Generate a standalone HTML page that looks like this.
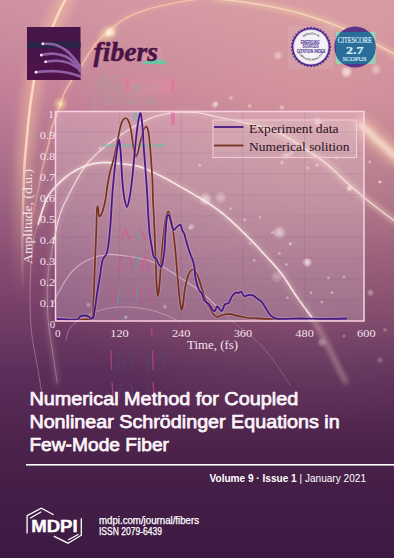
<!DOCTYPE html>
<html><head><meta charset="utf-8">
<style>
html,body{margin:0;padding:0;width:394px;height:558px;overflow:hidden;background:#3e1b45;}
svg{display:block;}
.serif{font-family:"Liberation Serif",serif;}
.sans{font-family:"Liberation Sans",sans-serif;}
</style></head><body>
<svg width="394" height="558" viewBox="0 0 394 558">
<defs>
<linearGradient id="bg" x1="0" y1="0" x2="0" y2="1">
<stop offset="0" stop-color="#cf92a2"/>
<stop offset="0.03" stop-color="#cd90a1"/>
<stop offset="0.165" stop-color="#c27f98"/>
<stop offset="0.345" stop-color="#a06684"/>
<stop offset="0.466" stop-color="#874c72"/>
<stop offset="0.57" stop-color="#743d66"/>
<stop offset="0.663" stop-color="#5c2f5a"/>
<stop offset="0.774" stop-color="#4f244d"/>
<stop offset="0.878" stop-color="#441e46"/>
<stop offset="1" stop-color="#3d1a42"/>
</linearGradient>
<filter id="bb" filterUnits="userSpaceOnUse" x="-50" y="-50" width="500" height="660"><feGaussianBlur stdDeviation="0.8"/></filter>
<filter id="gl1" filterUnits="userSpaceOnUse" x="-50" y="-50" width="500" height="660"><feGaussianBlur stdDeviation="1.3"/></filter>
<filter id="gl" filterUnits="userSpaceOnUse" x="-50" y="-50" width="500" height="660"><feGaussianBlur stdDeviation="2.5"/></filter>
<filter id="gl2" filterUnits="userSpaceOnUse" x="-50" y="-50" width="500" height="660"><feGaussianBlur stdDeviation="5"/></filter>
<filter id="sb" filterUnits="userSpaceOnUse" x="-50" y="-50" width="500" height="660"><feGaussianBlur stdDeviation="0.4"/></filter>
<radialGradient id="ov" gradientUnits="userSpaceOnUse" cx="0" cy="0" r="1" gradientTransform="translate(320 120) scale(330 320)"><stop offset="0" stop-color="#ffc8aa" stop-opacity="0.3"/><stop offset="1" stop-color="#ffc8aa" stop-opacity="0"/></radialGradient>
<linearGradient id="g1f" gradientUnits="userSpaceOnUse" x1="0" y1="0" x2="0" y2="290"><stop offset="0" stop-color="#ffdcc0"/><stop offset="0.5" stop-color="#ffdcc0"/><stop offset="1" stop-color="#ffdcc0" stop-opacity="0"/></linearGradient>
<linearGradient id="g1g" gradientUnits="userSpaceOnUse" x1="0" y1="0" x2="0" y2="300"><stop offset="0" stop-color="#ffc8a0"/><stop offset="0.5" stop-color="#ffc8a0"/><stop offset="1" stop-color="#ffc8a0" stop-opacity="0"/></linearGradient>
<linearGradient id="g2f" gradientUnits="userSpaceOnUse" x1="0" y1="0" x2="0" y2="240"><stop offset="0" stop-color="#f8c4a8"/><stop offset="0.55" stop-color="#f8c4a8"/><stop offset="1" stop-color="#f8c4a8" stop-opacity="0"/></linearGradient>
<radialGradient id="bk"><stop offset="0" stop-color="#fffaf0" stop-opacity="1"/><stop offset="0.45" stop-color="#fff0e8" stop-opacity="0.75"/><stop offset="1" stop-color="#ffe8e8" stop-opacity="0"/></radialGradient>
<radialGradient id="flare"><stop offset="0" stop-color="#fff8d8" stop-opacity="0.95"/><stop offset="0.35" stop-color="#ffe0a0" stop-opacity="0.5"/><stop offset="1" stop-color="#ffd090" stop-opacity="0"/></radialGradient>
</defs>
<rect width="394" height="558" fill="url(#bg)"/>
<rect width="394" height="558" fill="url(#ov)"/>

<!-- decorative arcs -->
<g fill="none" stroke-linecap="round">
  <path d="M67.0 -3.0C67.0 -3.0 62.2 5.4 60.0 10.0C57.6 15.0 55.6 20.0 53.0 26.0C49.7 33.6 45.0 44.1 42.0 52.0C39.5 58.5 37.6 63.8 36.0 70.0C34.4 76.4 33.5 83.5 32.5 90.0C31.5 96.2 30.7 102.0 29.9 108.0C29.2 113.9 28.6 119.8 28.0 125.8C27.4 131.8 26.9 137.6 26.3 143.8C25.7 150.6 24.9 157.9 24.5 165.0C24.0 172.2 23.9 179.1 23.6 186.8C23.3 195.6 23.0 205.5 22.8 215.0C22.6 224.8 22.3 235.0 22.3 245.0C22.3 255.0 22.3 265.5 22.5 275.0C22.7 283.7 23.5 300.0 23.5 300.0" stroke="url(#g1g)" stroke-width="16" opacity="0.45" filter="url(#gl2)"/>
  <path d="M67.0 -3.0C67.0 -3.0 62.2 5.4 60.0 10.0C57.6 15.0 55.6 20.0 53.0 26.0C49.7 33.6 45.0 44.1 42.0 52.0C39.5 58.5 37.6 63.8 36.0 70.0C34.4 76.4 33.5 83.5 32.5 90.0C31.5 96.2 30.7 102.0 29.9 108.0C29.2 113.9 28.6 119.8 28.0 125.8C27.4 131.8 26.9 137.6 26.3 143.8C25.7 150.6 24.9 157.9 24.5 165.0C24.0 172.2 23.9 179.1 23.6 186.8C23.3 195.6 23.0 205.5 22.8 215.0C22.6 224.8 22.3 235.0 22.3 245.0C22.3 255.0 22.3 265.5 22.5 275.0C22.7 283.7 23.5 300.0 23.5 300.0" stroke="url(#g1f)" stroke-width="2.6" opacity="0.9" filter="url(#sb)"/>
  <path d="M205.0 -2.0C205.0 -2.0 181.1 1.7 171.0 3.7C162.7 5.4 155.9 6.6 148.5 9.0C140.8 11.5 132.7 14.4 125.7 18.3C119.0 22.1 112.5 27.6 107.4 32.0C103.3 35.5 100.2 38.3 97.0 42.0C93.7 45.9 90.9 50.6 88.0 55.0C85.2 59.3 82.7 63.8 80.0 68.0C77.4 72.1 74.6 76.0 72.0 80.0C69.5 84.0 66.8 87.9 64.8 92.0C62.9 96.0 61.8 100.2 60.3 104.3C58.8 108.5 57.3 112.8 55.8 117.0C54.3 121.2 52.6 125.1 51.4 129.4C50.2 134.0 49.8 139.0 48.7 143.8C47.6 148.6 46.2 153.2 45.0 158.0C43.8 162.8 42.5 167.6 41.5 172.4C40.5 177.2 39.8 181.7 38.8 186.8C37.7 192.5 36.3 198.8 35.0 205.0C33.7 211.5 32.2 218.3 31.0 225.0C29.8 231.7 28.0 245.0 28.0 245.0" stroke="#ffc8a0" stroke-width="4" opacity="0.25" filter="url(#gl)"/>
  <path d="M205.0 -2.0C205.0 -2.0 181.1 1.7 171.0 3.7C162.7 5.4 155.9 6.6 148.5 9.0C140.8 11.5 132.7 14.4 125.7 18.3C119.0 22.1 112.5 27.6 107.4 32.0C103.3 35.5 100.2 38.3 97.0 42.0C93.7 45.9 90.9 50.6 88.0 55.0C85.2 59.3 82.7 63.8 80.0 68.0C77.4 72.1 74.6 76.0 72.0 80.0C69.5 84.0 66.8 87.9 64.8 92.0C62.9 96.0 61.8 100.2 60.3 104.3C58.8 108.5 57.3 112.8 55.8 117.0C54.3 121.2 52.6 125.1 51.4 129.4C50.2 134.0 49.8 139.0 48.7 143.8C47.6 148.6 46.2 153.2 45.0 158.0C43.8 162.8 42.5 167.6 41.5 172.4C40.5 177.2 39.8 181.7 38.8 186.8C37.7 192.5 36.3 198.8 35.0 205.0C33.7 211.5 32.2 218.3 31.0 225.0C29.8 231.7 28.0 245.0 28.0 245.0" stroke="url(#g2f)" stroke-width="1.6" opacity="0.8" filter="url(#sb)"/>
  <path d="M215.0 -1.0C215.0 -1.0 235.2 0.7 247.0 2.5C261.9 4.8 280.5 8.0 297.0 12.5C313.8 17.1 330.6 23.0 347.0 30.0C363.7 37.1 396.0 55.0 396.0 55.0" stroke="#ffe0a0" stroke-width="6" opacity="0.4" filter="url(#gl)"/>
  <path d="M215.0 -1.0C215.0 -1.0 235.2 0.7 247.0 2.5C261.9 4.8 280.5 8.0 297.0 12.5C313.8 17.1 330.6 23.0 347.0 30.0C363.7 37.1 396.0 55.0 396.0 55.0" stroke="#fff0d0" stroke-width="1.4" opacity="0.55" filter="url(#sb)"/>
  <path d="M362.0 125.5C362.0 125.5 365.9 129.0 368.0 131.0C370.4 133.3 372.8 136.0 375.5 138.6C378.4 141.4 381.7 144.1 385.0 147.0C388.5 150.2 396.0 157.0 396.0 157.0" stroke="#ffd0a8" stroke-width="18" opacity="0.45" filter="url(#gl2)"/>
  <path d="M362.0 125.5C362.0 125.5 365.9 129.0 368.0 131.0C370.4 133.3 372.8 136.0 375.5 138.6C378.4 141.4 381.7 144.1 385.0 147.0C388.5 150.2 396.0 157.0 396.0 157.0" stroke="#ffeedd" stroke-width="6" opacity="0.75" filter="url(#gl)"/>
  <path d="M250.0 124.0C250.0 124.0 271.6 129.6 281.0 134.0C289.8 138.1 297.3 143.9 305.0 149.0C312.5 153.9 319.8 158.5 326.7 164.0C333.7 169.6 339.8 176.3 346.5 182.3C353.2 188.2 359.3 193.7 366.8 199.7C375.6 206.8 396.0 222.0 396.0 222.0" stroke="#ffe0c0" stroke-width="6" opacity="0.3" filter="url(#gl)"/>
  <path d="M57.3 383.0C57.3 383.0 54.4 364.2 53.0 354.7C51.6 345.2 49.7 335.6 48.7 326.0C47.7 316.4 47.3 306.5 47.3 297.0C47.3 287.8 47.7 277.0 48.5 270.0C49.0 265.5 49.9 262.5 50.5 259.0C51.1 255.8 51.5 253.0 52.1 249.8C52.8 246.3 53.6 242.6 54.3 239.0C55.0 235.4 55.6 231.9 56.4 228.3C57.2 224.7 58.0 221.1 59.1 217.5C60.2 213.9 61.4 210.3 62.9 206.8C64.4 203.2 66.4 199.7 68.3 196.0C70.4 191.9 72.5 187.5 74.8 183.3C77.1 179.1 79.5 174.6 82.0 170.8C84.2 167.4 86.2 164.7 89.0 161.5C92.3 157.7 96.5 153.7 100.8 150.0C105.4 146.0 110.9 142.1 116.0 138.5C121.0 134.9 125.8 131.5 131.2 128.3C137.0 124.8 144.0 120.9 150.0 118.5C155.2 116.4 160.0 115.1 165.0 114.0C170.0 113.0 174.6 112.4 180.0 112.2C186.2 112.0 193.8 112.2 200.0 113.0C205.4 113.7 209.6 115.3 215.0 116.5C221.2 117.8 228.8 119.2 235.0 120.5C240.4 121.7 244.1 122.4 250.0 124.0C258.5 126.4 271.6 129.6 281.0 134.0C289.8 138.1 297.3 143.9 305.0 149.0C312.5 153.9 319.8 158.5 326.7 164.0C333.7 169.6 339.8 176.3 346.5 182.3C353.2 188.2 359.3 193.7 366.8 199.7C375.6 206.8 396.0 222.0 396.0 222.0" stroke="#ffe8d0" stroke-width="3" opacity="0.25" filter="url(#gl)"/>
  <path d="M54.3 239.0C54.3 239.0 55.6 231.9 56.4 228.3C57.2 224.7 58.0 221.1 59.1 217.5C60.2 213.9 61.4 210.3 62.9 206.8C64.4 203.2 66.4 199.7 68.3 196.0C70.4 191.9 72.5 187.5 74.8 183.3C77.1 179.1 79.5 174.6 82.0 170.8C84.2 167.4 86.2 164.7 89.0 161.5C92.3 157.7 96.5 153.7 100.8 150.0C105.4 146.0 110.9 142.1 116.0 138.5C121.0 134.9 125.8 131.5 131.2 128.3C137.0 124.8 144.0 120.9 150.0 118.5C155.2 116.4 160.0 115.1 165.0 114.0C170.0 113.0 174.6 112.4 180.0 112.2C186.2 112.0 193.8 112.2 200.0 113.0C205.4 113.7 209.6 115.3 215.0 116.5C221.2 117.8 228.8 119.2 235.0 120.5C240.4 121.7 244.1 122.4 250.0 124.0C258.5 126.4 271.6 129.6 281.0 134.0C289.8 138.1 297.3 143.9 305.0 149.0C312.5 153.9 319.8 158.5 326.7 164.0C333.7 169.6 339.8 176.3 346.5 182.3C353.2 188.2 359.3 193.7 366.8 199.7C375.6 206.8 396.0 222.0 396.0 222.0" stroke="#fff2e8" stroke-width="1.2" opacity="0.75" filter="url(#sb)"/>
  <path d="M57.3 383.0C57.3 383.0 54.4 364.2 53.0 354.7C51.6 345.2 49.7 335.6 48.7 326.0C47.7 316.4 47.3 306.5 47.3 297.0C47.3 287.8 47.7 277.0 48.5 270.0C49.0 265.5 49.9 262.5 50.5 259.0C51.1 255.8 51.5 253.0 52.1 249.8C52.8 246.3 53.6 242.6 54.3 239.0C55.0 235.4 56.4 228.3 56.4 228.3" stroke="#fff2e8" stroke-width="1" opacity="0.3" filter="url(#sb)"/>
  <path d="M38.2 224.0C38.2 224.0 40.9 214.6 42.5 210.0C44.1 205.4 45.5 200.7 47.9 196.5C50.3 192.4 53.5 188.7 56.9 185.1C60.6 181.3 64.9 177.4 69.4 174.3C73.9 171.2 78.7 168.4 83.8 166.5C89.1 164.5 94.9 163.1 100.8 162.6C107.2 162.1 114.5 163.1 121.0 163.8C127.1 164.4 132.6 164.6 138.8 166.4C146.1 168.5 154.1 172.7 161.8 176.5C169.9 180.5 179.2 186.1 186.2 190.0C191.5 193.0 194.9 194.8 200.0 198.0C206.5 202.1 214.6 207.2 222.0 213.0C230.3 219.6 239.5 228.6 247.0 236.0C253.6 242.5 259.2 248.7 265.0 255.0C270.6 261.1 276.0 266.6 281.2 273.4C286.9 280.8 292.0 289.9 297.5 297.8C302.8 305.4 308.9 312.4 313.7 320.0C318.3 327.3 322.0 334.7 326.0 342.4C330.1 350.3 334.4 359.6 338.0 366.8C340.9 372.5 346.0 382.0 346.0 382.0" stroke="#ffe4d0" stroke-width="4" opacity="0.3" filter="url(#gl)"/>
  <path d="M43.0 400.0C43.0 400.0 39.2 377.3 37.3 366.0C35.4 354.7 32.7 343.5 31.5 332.0C30.3 320.5 30.1 308.4 30.0 297.0C29.9 286.1 30.4 273.7 31.0 265.0C31.4 259.1 32.0 254.6 32.5 250.0C32.9 246.0 33.0 242.3 33.6 238.9C34.2 235.9 35.2 233.0 36.0 230.4C36.7 228.1 37.4 226.6 38.2 224.0C39.4 220.2 42.5 210.0 42.5 210.0" stroke="#fff0e8" stroke-width="1" opacity="0.3" filter="url(#sb)"/>
  <path d="M38.2 224.0C38.2 224.0 40.9 214.6 42.5 210.0C44.1 205.4 45.5 200.7 47.9 196.5C50.3 192.4 53.5 188.7 56.9 185.1C60.6 181.3 64.9 177.4 69.4 174.3C73.9 171.2 78.7 168.4 83.8 166.5C89.1 164.5 94.9 163.1 100.8 162.6C107.2 162.1 114.5 163.1 121.0 163.8C127.1 164.4 132.6 164.6 138.8 166.4C146.1 168.5 154.1 172.7 161.8 176.5C169.9 180.5 179.2 186.1 186.2 190.0C191.5 193.0 194.9 194.8 200.0 198.0C206.5 202.1 214.6 207.2 222.0 213.0C230.3 219.6 239.5 228.6 247.0 236.0C253.6 242.5 259.2 248.7 265.0 255.0C270.6 261.1 276.0 266.6 281.2 273.4C286.9 280.8 292.0 289.9 297.5 297.8C302.8 305.4 313.7 320.0 313.7 320.0" stroke="#fff2e6" stroke-width="1.8" opacity="0.85" filter="url(#sb)"/>
  <path d="M313.7 320.0C313.7 320.0 322.0 334.7 326.0 342.4C330.1 350.3 334.4 359.6 338.0 366.8C340.9 372.5 346.0 382.0 346.0 382.0" stroke="#fff0e8" stroke-width="3" opacity="0.18" filter="url(#gl)"/>
  <path d="M52.0 306.0C52.0 306.0 55.6 297.6 58.3 292.8C61.9 286.3 67.0 276.7 72.5 271.0C77.3 266.0 82.9 262.3 88.7 259.5C94.4 256.8 100.5 255.1 107.0 254.5C114.0 253.9 122.0 255.4 129.3 256.5C136.4 257.6 143.8 258.9 150.0 261.0C155.5 262.9 160.1 265.3 165.0 268.0C170.2 270.9 175.4 274.7 180.5 278.0C185.6 281.3 191.0 284.5 195.7 288.0C200.1 291.2 204.1 294.5 208.0 298.0C211.7 301.3 218.5 308.4 218.5 308.4" stroke="#ffe8f0" stroke-width="1.1" opacity="0.5" filter="url(#sb)"/>
  <path d="M218.5 308.4C218.5 308.4 227.3 316.9 232.0 321.0C236.8 325.1 242.1 329.0 247.0 333.0C251.8 337.0 256.2 339.9 261.0 345.0C267.4 351.8 275.8 363.6 281.0 371.0C284.7 376.3 290.0 385.0 290.0 385.0" stroke="#ffe8f0" stroke-width="1" opacity="0.2" filter="url(#sb)"/>
  <path d="M66.0 340.0C66.0 340.0 67.4 331.6 70.0 328.0C73.1 323.7 79.5 320.0 84.7 317.0C89.8 314.0 95.2 311.7 101.0 310.0C107.2 308.2 114.0 307.2 121.0 307.0C128.8 306.7 137.9 307.6 145.6 309.0C152.8 310.3 159.9 312.6 166.0 315.0C171.2 317.0 180.0 322.0 180.0 322.0" stroke="#ffe8f0" stroke-width="1" opacity="0.35" filter="url(#sb)"/>
</g>
<ellipse cx="108" cy="33.5" rx="13" ry="9" transform="rotate(-35 108 33.5)" fill="url(#flare)"/>
<circle cx="110.5" cy="32" r="4" fill="#fffbe8" opacity="0.6" filter="url(#gl1)"/>
<circle cx="60.5" cy="104" r="8" fill="url(#flare)"/>
<circle cx="346.5" cy="72" r="6.5" fill="url(#bk)" opacity="0.75"/><circle cx="376" cy="69.5" r="5.9" fill="url(#bk)" opacity="0.45"/><circle cx="278" cy="55.4" r="5.2" fill="url(#bk)" opacity="0.45"/><circle cx="216" cy="103.6" r="3.2" fill="url(#bk)" opacity="0.5"/><circle cx="231" cy="98" r="2.6" fill="url(#bk)" opacity="0.45"/><circle cx="249.6" cy="106" r="2.6" fill="url(#bk)" opacity="0.45"/><circle cx="317.6" cy="121.6" r="5.2" fill="url(#bk)" opacity="0.5"/><circle cx="285" cy="155.6" r="4.5" fill="url(#bk)" opacity="0.35"/><circle cx="199.8" cy="165.4" r="2.0" fill="url(#bk)" opacity="0.5"/><circle cx="205.4" cy="198.9" r="7.2" fill="url(#bk)" opacity="0.6"/><circle cx="220.7" cy="197.5" r="6.5" fill="url(#bk)" opacity="0.4"/><circle cx="230.5" cy="208.7" r="2.0" fill="url(#bk)" opacity="0.5"/><circle cx="244.5" cy="219.8" r="2.0" fill="url(#bk)" opacity="0.5"/><circle cx="259.8" cy="217" r="2.0" fill="url(#bk)" opacity="0.5"/><circle cx="279.4" cy="232.4" r="7.2" fill="url(#bk)" opacity="0.55"/><circle cx="272.4" cy="232.4" r="2.0" fill="url(#bk)" opacity="0.5"/><circle cx="250" cy="243.6" r="2.0" fill="url(#bk)" opacity="0.45"/><circle cx="290.6" cy="243.6" r="2.0" fill="url(#bk)" opacity="0.45"/><circle cx="279.4" cy="253.4" r="2.0" fill="url(#bk)" opacity="0.45"/><circle cx="254.2" cy="260.3" r="2.0" fill="url(#bk)" opacity="0.45"/><circle cx="286.4" cy="264.5" r="2.0" fill="url(#bk)" opacity="0.45"/><circle cx="276.6" cy="277" r="6.5" fill="url(#bk)" opacity="0.3"/><circle cx="190" cy="228" r="2.0" fill="url(#bk)" opacity="0.4"/><circle cx="191.5" cy="226.7" r="3.9" fill="url(#bk)" opacity="0.4"/><circle cx="349.4" cy="188.5" r="3.6" fill="url(#bk)" opacity="0.7"/><circle cx="379.7" cy="181.9" r="2.0" fill="url(#bk)" opacity="0.5"/><circle cx="307.2" cy="262.3" r="5.2" fill="url(#bk)" opacity="0.75"/><circle cx="328.3" cy="278" r="2.0" fill="url(#bk)" opacity="0.5"/><circle cx="344" cy="277" r="2.0" fill="url(#bk)" opacity="0.5"/><circle cx="311" cy="292.7" r="2.0" fill="url(#bk)" opacity="0.5"/><circle cx="332" cy="292.7" r="2.0" fill="url(#bk)" opacity="0.5"/><circle cx="370.5" cy="292.7" r="3.9" fill="url(#bk)" opacity="0.4"/><circle cx="290" cy="244" r="2.0" fill="url(#bk)" opacity="0.4"/><circle cx="336.4" cy="157.7" r="2.3" fill="url(#bk)" opacity="0.45"/><circle cx="369.7" cy="162" r="2.3" fill="url(#bk)" opacity="0.45"/><circle cx="380" cy="182" r="2.0" fill="url(#bk)" opacity="0.45"/><circle cx="307.5" cy="168" r="2.3" fill="url(#bk)" opacity="0.45"/><circle cx="288.7" cy="154.8" r="3.9" fill="url(#bk)" opacity="0.35"/><circle cx="321.8" cy="302" r="2.0" fill="url(#bk)" opacity="0.45"/><circle cx="287.3" cy="297.8" r="2.0" fill="url(#bk)" opacity="0.4"/><circle cx="309.6" cy="320" r="2.0" fill="url(#bk)" opacity="0.4"/><circle cx="321.8" cy="342.4" r="5.2" fill="url(#bk)" opacity="0.3"/><circle cx="344" cy="336" r="2.0" fill="url(#bk)" opacity="0.4"/><circle cx="88.4" cy="304.8" r="2.6" fill="url(#bk)" opacity="0.4"/><circle cx="125.7" cy="317.3" r="2.6" fill="url(#bk)" opacity="0.4"/><circle cx="164.8" cy="306.6" r="2.6" fill="url(#bk)" opacity="0.4"/><circle cx="100" cy="148" r="2.0" fill="url(#bk)" opacity="0.45"/><circle cx="282" cy="107.5" r="3.2" fill="url(#bk)" opacity="0.5"/><circle cx="292" cy="152.5" r="2.6" fill="url(#bk)" opacity="0.45"/><circle cx="282" cy="162.5" r="2.6" fill="url(#bk)" opacity="0.45"/><circle cx="317" cy="165" r="2.6" fill="url(#bk)" opacity="0.45"/><circle cx="214.5" cy="105" r="3.9" fill="url(#bk)" opacity="0.45"/><circle cx="380" cy="360" r="3.9" fill="url(#bk)" opacity="0.25"/><circle cx="385" cy="330" r="2.6" fill="url(#bk)" opacity="0.3"/>

<!-- logo -->
<rect x="27" y="27" width="53.5" height="53" fill="#48154a"/>
<rect x="27" y="62" width="53.5" height="18" fill="#54124a" opacity="0.6"/>
<rect x="27" y="41.6" width="53.5" height="6.4" fill="#2a2448"/>
<g fill="none" stroke="#9a6ab2" stroke-width="2.6" stroke-linecap="round" opacity="0.88">
  <path d="M42.8 43.8C42.8 43.8 50.6 43.5 54.4 44.5C58.3 45.5 62.5 47.7 65.8 50.1C69.1 52.5 71.8 55.7 74.3 58.7C76.6 61.5 80.4 67.2 80.4 67.2"/>
  <path d="M41.3 55.1C41.3 55.1 50.2 53.4 54.4 53.7C58.4 54.0 62.4 54.9 65.8 56.5C69.0 58.0 71.9 60.4 74.3 62.9C76.7 65.4 80.4 71.5 80.4 71.5"/>
  <path d="M45.6 61.8C45.6 61.8 53.4 60.6 57.2 60.8C61.0 61.0 64.9 61.5 68.6 62.9C72.6 64.4 80.4 70.0 80.4 70.0"/>
  <path d="M36.0 72.2C36.0 72.2 48.7 71.0 54.4 71.2C59.4 71.4 64.1 72.0 68.6 72.9C72.8 73.8 80.4 76.4 80.4 76.4"/>
</g>
<g fill="#f6e4f4"><circle cx="42.8" cy="43.8" r="1.4"/><circle cx="41.3" cy="55.1" r="1.4"/><circle cx="45.6" cy="61.8" r="1.4"/><circle cx="36" cy="72.2" r="1.4"/></g>
<rect x="141.7" y="46" width="20" height="14" fill="#e894ac" opacity="0.35"/>
<g opacity="0.9">
<text x="94" y="0" class="serif" font-size="26" font-weight="bold" font-style="italic" fill="none" stroke="#98aaa4" stroke-width="1.4" opacity="0.35" transform="translate(0 104) scale(1 1.55)" textLength="63" lengthAdjust="spacingAndGlyphs">fibers</text>
<rect x="127" y="79" width="47" height="16" fill="#e88aa8" opacity="0.35" filter="url(#sb)"/>
<rect x="126" y="79" width="3" height="12" fill="#f0609a" opacity="0.45" filter="url(#sb)"/>
<rect x="171" y="79" width="3" height="14" fill="#f0609a" opacity="0.45" filter="url(#sb)"/>
<rect x="135" y="83" width="2.5" height="10" fill="#5cc0a8" opacity="0.35" filter="url(#sb)"/>
</g>
<polygon points="141.7,64 146,60.6 161.5,59.3 168,64" fill="#6cc4a0"/>
<text x="93.5" y="60.5" class="serif" font-size="27" font-weight="bold" font-style="italic" fill="#4a1446" stroke="#4a1446" stroke-width="0.5" textLength="64.5" lengthAdjust="spacingAndGlyphs">fibers</text>

<!-- ESCI badge -->
<rect x="288" y="26" width="46" height="43" fill="#ffffff" opacity="0.08"/>
<polygon points="331.50,47.00 329.73,48.64 331.19,50.56 329.16,51.87 330.26,54.01 328.04,54.95 328.75,57.25 326.40,57.78 326.70,60.18 324.29,60.29 324.18,62.70 321.78,62.40 321.25,64.75 318.95,64.04 318.01,66.26 315.87,65.16 314.56,67.19 312.64,65.73 311.00,67.50 309.36,65.73 307.44,67.19 306.13,65.16 303.99,66.26 303.05,64.04 300.75,64.75 300.22,62.40 297.82,62.70 297.71,60.29 295.30,60.18 295.60,57.78 293.25,57.25 293.96,54.95 291.74,54.01 292.84,51.87 290.81,50.56 292.27,48.64 290.50,47.00 292.27,45.36 290.81,43.44 292.84,42.13 291.74,39.99 293.96,39.05 293.25,36.75 295.60,36.22 295.30,33.82 297.71,33.71 297.82,31.30 300.22,31.60 300.75,29.25 303.05,29.96 303.99,27.74 306.13,28.84 307.44,26.81 309.36,28.27 311.00,26.50 312.64,28.27 314.56,26.81 315.87,28.84 318.01,27.74 318.95,29.96 321.25,29.25 321.78,31.60 324.18,31.30 324.29,33.71 326.70,33.82 326.40,36.22 328.75,36.75 328.04,39.05 330.26,39.99 329.16,42.13 331.19,43.44 329.73,45.36" fill="#4b2c8c"/>
<circle cx="311" cy="47" r="17.6" fill="#e9d9ec"/>
<circle cx="311" cy="47" r="16.6" fill="#f3f1f5"/>
<path id="escitop" d="M298.5 47 A12.5 12.5 0 0 1 323.5 47" fill="none"/>
<path id="escibot" d="M297.2 47 A13.8 13.8 0 0 0 324.8 47" fill="none"/>
<g class="sans" font-size="2.9" font-weight="bold" fill="#58506a" text-anchor="middle">
<text><textPath href="#escitop" startOffset="50%">INDEXED IN</textPath></text>
<text><textPath href="#escibot" startOffset="50%">CLARIVATE ANALYTICS</textPath></text></g>
<g class="sans" font-size="4.8" font-weight="bold" fill="#5e4a9a" stroke="#5e4a9a" stroke-width="0.15" text-anchor="middle">
<text x="310.2" y="43.5" textLength="18.8" lengthAdjust="spacingAndGlyphs">EMERGING</text>
<text x="310.6" y="48.1" textLength="16" lengthAdjust="spacingAndGlyphs">SOURCES</text>
<text x="311" y="52.5" textLength="28.7" lengthAdjust="spacingAndGlyphs">CITATION INDEX</text></g>

<!-- CiteScore badge -->
<clipPath id="csq"><rect x="335.8" y="32" width="39.8" height="32"/></clipPath>
<rect x="335.8" y="32" width="39.8" height="32" fill="#98d2b2"/>
<circle cx="355" cy="47" r="20.6" fill="#5a3488"/>
<circle cx="355" cy="47" r="20.6" fill="#2a6c9a" clip-path="url(#csq)"/>
<g class="serif" fill="#d8eef6" stroke="#d8eef6" stroke-width="0.2" text-anchor="middle">
<text x="354.8" y="43" font-size="7.2" textLength="34" lengthAdjust="spacingAndGlyphs">CITESCORE</text>
<text x="354.8" y="53.5" font-size="10.5" font-weight="bold" textLength="17.5" lengthAdjust="spacingAndGlyphs">2.7</text>
<text x="354.6" y="61.4" font-size="6.8" textLength="24" lengthAdjust="spacingAndGlyphs">SCOPUS</text></g>

<!-- chart -->
<rect x="55.5" y="111.5" width="308.5" height="209.5" fill="#fff0f8" fill-opacity="0.21"/>
<g stroke="#7a4f78" stroke-opacity="0.25" stroke-width="0.6"><line x1="56" y1="300" x2="363" y2="300"/><line x1="56" y1="279" x2="363" y2="279"/><line x1="56" y1="258" x2="363" y2="258"/><line x1="56" y1="237" x2="363" y2="237"/><line x1="56" y1="216" x2="363" y2="216"/><line x1="56" y1="195" x2="363" y2="195"/><line x1="56" y1="174" x2="363" y2="174"/><line x1="56" y1="153" x2="363" y2="153"/><line x1="56" y1="132" x2="363" y2="132"/><line x1="119.5" y1="112" x2="119.5" y2="320"/><line x1="181.2" y1="112" x2="181.2" y2="320"/><line x1="242.9" y1="112" x2="242.9" y2="320"/><line x1="304.6" y1="112" x2="304.6" y2="320"/></g>
<rect x="103" y="144.2" width="63" height="2.8" fill="#5cc0a8" opacity="0.45" filter="url(#sb)"/>
<g stroke-width="1.4" opacity="0.55" filter="url(#sb)"><line x1="121.5" y1="240" x2="125.5" y2="229.5" stroke="#e04a8a"/><line x1="125.5" y1="229.5" x2="129.6" y2="240" stroke="#e04a8a"/><line x1="137" y1="240" x2="140.5" y2="229.5" stroke="#4aa8a4"/><line x1="141" y1="229.5" x2="145.7" y2="240" stroke="#e04a8a"/><line x1="118" y1="272" x2="121.5" y2="256" stroke="#e04a8a"/><line x1="129.6" y1="256" x2="133.2" y2="272" stroke="#e04a8a"/><line x1="134" y1="272" x2="137.6" y2="256" stroke="#4aa8a4"/><line x1="141.2" y1="272" x2="144.8" y2="256" stroke="#e04a8a"/><line x1="145.7" y1="256" x2="149.3" y2="272" stroke="#e04a8a"/><line x1="113.4" y1="304" x2="117" y2="287" stroke="#e04a8a"/><line x1="118" y1="304" x2="119.7" y2="287" stroke="#4aa8a4"/><line x1="133" y1="287" x2="137.6" y2="304" stroke="#e04a8a"/><line x1="135.8" y1="304" x2="138.5" y2="287" stroke="#4aa8a4"/><line x1="140.3" y1="287" x2="142.1" y2="304" stroke="#e04a8a"/><line x1="149.3" y1="287" x2="152" y2="304" stroke="#e04a8a"/><line x1="112.5" y1="318" x2="113" y2="322" stroke="#e04a8a"/><line x1="122" y1="318" x2="122.5" y2="322" stroke="#4aa8a4"/><line x1="111" y1="350" x2="111.5" y2="370" stroke="#e04a8a"/><line x1="152.6" y1="350" x2="153" y2="370" stroke="#e04a8a"/><line x1="151.6" y1="328" x2="152" y2="336" stroke="#e04a8a"/><line x1="117" y1="372" x2="119.5" y2="352" stroke="#4a4a78"/><line x1="123.2" y1="352" x2="125" y2="372" stroke="#4a4a78"/><line x1="130.3" y1="372" x2="132" y2="352" stroke="#4a4a78"/><line x1="146.5" y1="352" x2="148" y2="372" stroke="#4a4a78"/><line x1="148.6" y1="372" x2="150.5" y2="352" stroke="#4a4a78"/><line x1="163.8" y1="352" x2="165" y2="372" stroke="#4a4a78"/><line x1="119" y1="398" x2="121" y2="382" stroke="#4a4a78"/><line x1="131" y1="382" x2="133" y2="398" stroke="#4a4a78"/><line x1="147" y1="398" x2="149" y2="382" stroke="#4a4a78"/><line x1="112" y1="382" x2="113" y2="396" stroke="#e04a8a"/><line x1="153" y1="382" x2="154" y2="396" stroke="#e04a8a"/></g>
<rect x="171" y="112" width="4" height="13" fill="#e85a9a" opacity="0.5" filter="url(#sb)"/>
<rect x="133" y="111" width="5" height="10" fill="#5cc0a8" opacity="0.4" filter="url(#sb)"/>
<path d="M57.0 319.0C57.0 319.0 85.7 320.0 90.0 319.0C91.1 318.7 91.5 318.8 92.0 318.0C93.5 315.7 93.1 307.1 93.5 300.0C94.1 289.7 94.5 274.1 95.0 262.0C95.4 250.9 95.9 239.9 96.3 230.0C96.7 221.4 96.5 206.2 97.3 206.0C97.5 206.0 97.8 206.8 98.0 207.5C98.5 209.2 98.5 216.2 99.4 216.5C99.8 216.6 100.5 215.7 101.0 215.0C101.8 213.9 102.4 212.0 103.0 210.0C103.9 207.3 104.7 203.6 105.4 200.0C106.2 196.0 106.5 191.5 107.2 187.0C108.0 182.2 108.9 176.8 110.0 172.0C111.1 167.5 112.7 163.2 113.7 159.0C114.6 155.2 115.2 151.7 116.0 148.0C116.8 144.2 117.5 140.2 118.3 136.5C119.1 132.9 119.7 129.0 120.6 126.0C121.3 123.7 121.9 121.4 123.0 120.0C123.8 119.0 125.0 117.9 125.9 118.0C126.7 118.1 127.4 119.1 128.0 120.0C128.7 121.1 129.2 122.5 129.7 124.3C130.6 127.3 131.4 132.7 132.0 136.5C132.5 139.9 132.7 143.1 133.2 146.0C133.6 148.5 133.9 151.1 134.5 153.0C135.0 154.4 135.6 156.6 136.2 156.6C136.8 156.6 137.4 153.8 138.0 152.0C138.8 149.5 139.3 145.7 140.0 143.0C140.5 140.9 141.1 139.3 141.6 137.3C142.2 135.0 142.5 131.9 143.5 130.0C144.2 128.5 145.5 126.4 146.3 126.5C147.0 126.6 147.6 128.6 148.0 130.0C148.6 132.1 148.8 135.2 149.2 138.0C149.6 141.1 149.8 143.7 150.2 148.0C150.8 155.6 151.9 170.6 152.4 180.0C152.8 187.4 152.7 192.7 153.0 200.0C153.4 209.0 154.0 219.3 154.5 230.0C155.0 242.4 155.5 259.0 156.0 270.0C156.3 277.8 156.5 285.2 157.0 290.0C157.3 292.7 157.7 296.4 158.0 296.4C158.3 296.4 158.7 292.8 159.0 290.0C159.6 284.7 160.3 274.1 160.8 267.0C161.3 260.9 161.5 255.8 162.0 250.0C162.5 244.0 163.2 237.4 163.9 231.7C164.5 226.7 164.8 221.5 165.8 217.8C166.5 215.2 167.5 211.4 168.3 211.4C169.2 211.4 170.1 216.0 170.9 219.0C171.9 222.9 172.7 228.1 173.4 233.0C174.2 238.4 174.6 243.1 175.3 250.0C176.3 260.4 177.7 279.5 178.7 289.6C179.3 295.9 179.9 301.3 180.5 305.0C180.9 307.1 181.2 309.8 181.6 309.8C182.0 309.8 182.6 307.1 183.0 305.0C183.7 301.3 183.8 294.7 184.8 289.6C185.8 284.4 186.9 277.5 188.8 274.0C189.9 271.9 191.6 269.6 192.8 269.5C193.6 269.4 194.3 270.2 195.0 271.0C196.0 272.1 196.9 274.0 197.8 276.2C199.3 279.6 200.7 285.1 202.2 289.6C203.7 294.1 205.2 300.0 206.7 303.0C207.5 304.6 208.2 305.1 209.1 306.5C210.4 308.6 212.1 312.7 213.7 314.5C214.8 315.7 215.9 316.6 217.1 316.8C218.2 317.0 219.4 316.1 220.6 315.7C222.0 315.3 223.6 314.8 225.1 314.5C226.6 314.2 228.0 313.8 229.7 313.9C231.8 314.0 234.1 315.1 236.5 315.7C239.3 316.3 242.3 317.1 245.7 317.5C249.8 318.0 255.3 318.2 259.4 318.4C262.7 318.6 265.3 318.8 268.5 318.9C272.1 319.0 280.0 319.0 280.0 319.0" fill="none" stroke="#f0c8d8" stroke-width="3.6" stroke-linejoin="round" opacity="0.25"/>
<path d="M57.0 319.0C57.0 319.0 85.7 320.0 90.0 319.0C91.1 318.7 91.5 318.8 92.0 318.0C93.5 315.7 93.1 307.1 93.5 300.0C94.1 289.7 94.5 274.1 95.0 262.0C95.4 250.9 95.9 239.9 96.3 230.0C96.7 221.4 96.5 206.2 97.3 206.0C97.5 206.0 97.8 206.8 98.0 207.5C98.5 209.2 98.5 216.2 99.4 216.5C99.8 216.6 100.5 215.7 101.0 215.0C101.8 213.9 102.4 212.0 103.0 210.0C103.9 207.3 104.7 203.6 105.4 200.0C106.2 196.0 106.5 191.5 107.2 187.0C108.0 182.2 108.9 176.8 110.0 172.0C111.1 167.5 112.7 163.2 113.7 159.0C114.6 155.2 115.2 151.7 116.0 148.0C116.8 144.2 117.5 140.2 118.3 136.5C119.1 132.9 119.7 129.0 120.6 126.0C121.3 123.7 121.9 121.4 123.0 120.0C123.8 119.0 125.0 117.9 125.9 118.0C126.7 118.1 127.4 119.1 128.0 120.0C128.7 121.1 129.2 122.5 129.7 124.3C130.6 127.3 131.4 132.7 132.0 136.5C132.5 139.9 132.7 143.1 133.2 146.0C133.6 148.5 133.9 151.1 134.5 153.0C135.0 154.4 135.6 156.6 136.2 156.6C136.8 156.6 137.4 153.8 138.0 152.0C138.8 149.5 139.3 145.7 140.0 143.0C140.5 140.9 141.1 139.3 141.6 137.3C142.2 135.0 142.5 131.9 143.5 130.0C144.2 128.5 145.5 126.4 146.3 126.5C147.0 126.6 147.6 128.6 148.0 130.0C148.6 132.1 148.8 135.2 149.2 138.0C149.6 141.1 149.8 143.7 150.2 148.0C150.8 155.6 151.9 170.6 152.4 180.0C152.8 187.4 152.7 192.7 153.0 200.0C153.4 209.0 154.0 219.3 154.5 230.0C155.0 242.4 155.5 259.0 156.0 270.0C156.3 277.8 156.5 285.2 157.0 290.0C157.3 292.7 157.7 296.4 158.0 296.4C158.3 296.4 158.7 292.8 159.0 290.0C159.6 284.7 160.3 274.1 160.8 267.0C161.3 260.9 161.5 255.8 162.0 250.0C162.5 244.0 163.2 237.4 163.9 231.7C164.5 226.7 164.8 221.5 165.8 217.8C166.5 215.2 167.5 211.4 168.3 211.4C169.2 211.4 170.1 216.0 170.9 219.0C171.9 222.9 172.7 228.1 173.4 233.0C174.2 238.4 174.6 243.1 175.3 250.0C176.3 260.4 177.7 279.5 178.7 289.6C179.3 295.9 179.9 301.3 180.5 305.0C180.9 307.1 181.2 309.8 181.6 309.8C182.0 309.8 182.6 307.1 183.0 305.0C183.7 301.3 183.8 294.7 184.8 289.6C185.8 284.4 186.9 277.5 188.8 274.0C189.9 271.9 191.6 269.6 192.8 269.5C193.6 269.4 194.3 270.2 195.0 271.0C196.0 272.1 196.9 274.0 197.8 276.2C199.3 279.6 200.7 285.1 202.2 289.6C203.7 294.1 205.2 300.0 206.7 303.0C207.5 304.6 208.2 305.1 209.1 306.5C210.4 308.6 212.1 312.7 213.7 314.5C214.8 315.7 215.9 316.6 217.1 316.8C218.2 317.0 219.4 316.1 220.6 315.7C222.0 315.3 223.6 314.8 225.1 314.5C226.6 314.2 228.0 313.8 229.7 313.9C231.8 314.0 234.1 315.1 236.5 315.7C239.3 316.3 242.3 317.1 245.7 317.5C249.8 318.0 255.3 318.2 259.4 318.4C262.7 318.6 265.3 318.8 268.5 318.9C272.1 319.0 280.0 319.0 280.0 319.0" fill="none" stroke="#74321f" stroke-width="1.7" stroke-linejoin="round"/>
<path d="M57.0 319.0C57.0 319.0 74.8 320.5 78.0 319.0C79.2 318.4 79.1 317.1 80.0 316.5C81.0 315.8 82.7 315.5 84.0 315.5C85.3 315.5 86.8 315.7 88.0 316.2C89.1 316.7 90.1 318.3 91.0 318.5C91.7 318.6 92.4 318.6 93.0 318.0C94.2 316.7 94.3 311.8 95.0 308.0C95.9 302.9 96.7 295.6 97.6 290.0C98.4 285.0 99.1 280.9 100.0 276.0C100.9 270.6 101.4 262.9 103.0 259.0C104.0 256.7 105.6 256.1 106.5 254.0C107.6 251.3 107.9 247.9 108.5 244.0C109.3 238.7 109.8 232.3 110.4 225.0C111.2 215.3 111.7 202.2 112.6 191.0C113.5 180.2 114.8 167.5 115.8 159.0C116.5 153.4 117.2 148.6 117.8 145.0C118.2 142.7 118.6 139.5 119.0 139.5C119.5 139.5 120.1 145.6 120.5 150.0C121.3 157.4 121.5 171.1 122.3 180.0C122.9 187.1 123.5 194.1 124.5 199.0C125.2 202.3 126.2 207.0 127.0 207.0C127.9 207.0 128.8 201.5 129.5 198.0C130.5 193.1 131.3 186.2 132.0 180.0C132.8 173.5 133.3 166.9 134.0 160.0C134.7 152.6 135.4 144.1 136.2 137.0C136.9 130.9 137.6 124.5 138.5 120.0C139.1 117.0 139.9 112.5 140.5 112.5C141.2 112.5 141.8 120.2 142.3 125.0C143.0 131.5 143.3 140.4 143.8 148.0C144.3 155.4 145.0 162.8 145.5 170.0C146.0 177.1 146.6 184.2 147.0 191.0C147.4 197.5 147.6 203.3 148.0 210.0C148.4 217.4 148.8 226.9 149.6 233.6C150.2 238.7 151.0 242.9 151.8 247.0C152.5 250.6 152.8 255.0 154.0 257.0C154.6 258.1 155.6 258.1 156.3 259.0C157.2 260.2 157.6 262.6 158.5 264.0C159.3 265.2 160.7 267.2 161.4 267.0C162.4 266.7 162.7 261.8 163.2 259.0C163.7 256.1 164.1 253.5 164.5 250.0C165.0 245.2 165.1 238.4 165.5 233.0C165.9 228.1 166.2 222.2 166.7 219.0C167.0 217.2 167.1 215.3 167.7 215.0C168.0 214.8 168.6 215.1 169.0 215.5C170.0 216.6 170.6 221.4 171.5 224.0C172.2 226.2 172.7 229.8 173.8 230.0C174.7 230.2 176.0 227.5 177.2 226.6C178.2 225.8 179.6 224.4 180.4 224.7C181.4 225.1 181.6 228.9 182.3 230.5C182.9 231.7 183.6 232.3 184.2 233.6C185.0 235.4 185.4 238.2 186.1 240.6C186.9 243.3 187.7 246.3 188.6 249.0C189.4 251.4 190.2 253.9 191.0 256.0C191.7 257.8 192.4 259.2 193.0 261.0C193.6 262.9 194.0 264.7 194.4 267.0C194.9 270.1 194.8 274.3 195.5 278.0C196.3 281.9 197.5 286.7 198.9 289.6C199.9 291.5 201.3 292.3 202.2 294.0C203.2 296.0 203.3 299.0 204.6 300.8C205.7 302.4 207.8 302.9 209.1 304.3C210.5 305.9 211.4 308.9 212.6 310.0C213.3 310.7 214.1 311.3 214.8 311.1C215.7 310.8 216.2 306.6 217.1 306.5C217.8 306.4 218.6 308.0 219.4 308.8C220.2 309.6 220.9 311.2 221.7 311.1C222.9 310.9 223.6 305.6 225.1 304.3C226.1 303.4 227.6 304.0 228.6 303.1C230.1 301.8 230.7 298.1 232.0 296.3C233.0 294.8 234.1 293.3 235.4 292.8C236.4 292.4 237.8 293.0 238.8 292.8C239.7 292.6 240.3 291.5 241.1 291.7C242.2 292.0 243.2 295.9 244.5 296.3C245.6 296.6 246.7 295.3 248.0 295.1C249.4 294.9 251.1 294.6 252.5 295.1C254.1 295.6 255.6 297.4 257.1 298.6C258.6 299.7 260.3 300.5 261.7 302.0C263.4 303.8 264.7 306.5 266.2 308.8C267.7 311.1 269.1 314.1 270.8 315.7C272.2 317.0 273.7 317.9 275.4 318.4C277.3 319.0 279.3 318.8 282.0 318.9C286.5 319.0 293.8 318.5 300.0 318.5C306.5 318.5 312.8 318.8 320.0 318.8C328.3 318.8 347.0 318.5 347.0 318.5" fill="none" stroke="#e0c0f0" stroke-width="3.8" stroke-linejoin="round" opacity="0.3"/>
<path d="M57.0 319.0C57.0 319.0 74.8 320.5 78.0 319.0C79.2 318.4 79.1 317.1 80.0 316.5C81.0 315.8 82.7 315.5 84.0 315.5C85.3 315.5 86.8 315.7 88.0 316.2C89.1 316.7 90.1 318.3 91.0 318.5C91.7 318.6 92.4 318.6 93.0 318.0C94.2 316.7 94.3 311.8 95.0 308.0C95.9 302.9 96.7 295.6 97.6 290.0C98.4 285.0 99.1 280.9 100.0 276.0C100.9 270.6 101.4 262.9 103.0 259.0C104.0 256.7 105.6 256.1 106.5 254.0C107.6 251.3 107.9 247.9 108.5 244.0C109.3 238.7 109.8 232.3 110.4 225.0C111.2 215.3 111.7 202.2 112.6 191.0C113.5 180.2 114.8 167.5 115.8 159.0C116.5 153.4 117.2 148.6 117.8 145.0C118.2 142.7 118.6 139.5 119.0 139.5C119.5 139.5 120.1 145.6 120.5 150.0C121.3 157.4 121.5 171.1 122.3 180.0C122.9 187.1 123.5 194.1 124.5 199.0C125.2 202.3 126.2 207.0 127.0 207.0C127.9 207.0 128.8 201.5 129.5 198.0C130.5 193.1 131.3 186.2 132.0 180.0C132.8 173.5 133.3 166.9 134.0 160.0C134.7 152.6 135.4 144.1 136.2 137.0C136.9 130.9 137.6 124.5 138.5 120.0C139.1 117.0 139.9 112.5 140.5 112.5C141.2 112.5 141.8 120.2 142.3 125.0C143.0 131.5 143.3 140.4 143.8 148.0C144.3 155.4 145.0 162.8 145.5 170.0C146.0 177.1 146.6 184.2 147.0 191.0C147.4 197.5 147.6 203.3 148.0 210.0C148.4 217.4 148.8 226.9 149.6 233.6C150.2 238.7 151.0 242.9 151.8 247.0C152.5 250.6 152.8 255.0 154.0 257.0C154.6 258.1 155.6 258.1 156.3 259.0C157.2 260.2 157.6 262.6 158.5 264.0C159.3 265.2 160.7 267.2 161.4 267.0C162.4 266.7 162.7 261.8 163.2 259.0C163.7 256.1 164.1 253.5 164.5 250.0C165.0 245.2 165.1 238.4 165.5 233.0C165.9 228.1 166.2 222.2 166.7 219.0C167.0 217.2 167.1 215.3 167.7 215.0C168.0 214.8 168.6 215.1 169.0 215.5C170.0 216.6 170.6 221.4 171.5 224.0C172.2 226.2 172.7 229.8 173.8 230.0C174.7 230.2 176.0 227.5 177.2 226.6C178.2 225.8 179.6 224.4 180.4 224.7C181.4 225.1 181.6 228.9 182.3 230.5C182.9 231.7 183.6 232.3 184.2 233.6C185.0 235.4 185.4 238.2 186.1 240.6C186.9 243.3 187.7 246.3 188.6 249.0C189.4 251.4 190.2 253.9 191.0 256.0C191.7 257.8 192.4 259.2 193.0 261.0C193.6 262.9 194.0 264.7 194.4 267.0C194.9 270.1 194.8 274.3 195.5 278.0C196.3 281.9 197.5 286.7 198.9 289.6C199.9 291.5 201.3 292.3 202.2 294.0C203.2 296.0 203.3 299.0 204.6 300.8C205.7 302.4 207.8 302.9 209.1 304.3C210.5 305.9 211.4 308.9 212.6 310.0C213.3 310.7 214.1 311.3 214.8 311.1C215.7 310.8 216.2 306.6 217.1 306.5C217.8 306.4 218.6 308.0 219.4 308.8C220.2 309.6 220.9 311.2 221.7 311.1C222.9 310.9 223.6 305.6 225.1 304.3C226.1 303.4 227.6 304.0 228.6 303.1C230.1 301.8 230.7 298.1 232.0 296.3C233.0 294.8 234.1 293.3 235.4 292.8C236.4 292.4 237.8 293.0 238.8 292.8C239.7 292.6 240.3 291.5 241.1 291.7C242.2 292.0 243.2 295.9 244.5 296.3C245.6 296.6 246.7 295.3 248.0 295.1C249.4 294.9 251.1 294.6 252.5 295.1C254.1 295.6 255.6 297.4 257.1 298.6C258.6 299.7 260.3 300.5 261.7 302.0C263.4 303.8 264.7 306.5 266.2 308.8C267.7 311.1 269.1 314.1 270.8 315.7C272.2 317.0 273.7 317.9 275.4 318.4C277.3 319.0 279.3 318.8 282.0 318.9C286.5 319.0 293.8 318.5 300.0 318.5C306.5 318.5 312.8 318.8 320.0 318.8C328.3 318.8 347.0 318.5 347.0 318.5" fill="none" stroke="#4a1a84" stroke-width="1.8" stroke-linejoin="round"/>
<rect x="55.5" y="111.5" width="308.5" height="209.5" fill="none" stroke="#fad0e2" stroke-width="1.5"/>
<!-- legend -->
<rect x="213" y="120" width="143.5" height="37.5" fill="#fff4fa" fill-opacity="0.1" stroke="#f4cadc" stroke-width="1"/>
<line x1="214" y1="127" x2="243.5" y2="127" stroke="#4a1a84" stroke-width="1.8"/>
<line x1="214" y1="145.5" x2="243.5" y2="145.5" stroke="#74321f" stroke-width="1.8"/>
<g class="serif" font-size="13" fill="#2a0f24">
<text x="249" y="132.8" textLength="89.5" lengthAdjust="spacingAndGlyphs">Experiment data</text>
<text x="249" y="151" textLength="100.5" lengthAdjust="spacingAndGlyphs">Numerical solition</text></g>
<g class="serif" font-size="11" fill="#f6e2ee"><text x="55.3" y="327.8" text-anchor="end">0</text><text x="55.3" y="306.9" text-anchor="end" textLength="15.5" lengthAdjust="spacingAndGlyphs">0.1</text><text x="55.3" y="285.9" text-anchor="end" textLength="15.5" lengthAdjust="spacingAndGlyphs">0.2</text><text x="55.3" y="264.9" text-anchor="end" textLength="15.5" lengthAdjust="spacingAndGlyphs">0.3</text><text x="55.3" y="244.0" text-anchor="end" textLength="15.5" lengthAdjust="spacingAndGlyphs">0.4</text><text x="55.3" y="223.1" text-anchor="end" textLength="15.5" lengthAdjust="spacingAndGlyphs">0.5</text><text x="55.3" y="202.1" text-anchor="end" textLength="15.5" lengthAdjust="spacingAndGlyphs">0.6</text><text x="55.3" y="181.2" text-anchor="end" textLength="15.5" lengthAdjust="spacingAndGlyphs">0.7</text><text x="55.3" y="160.2" text-anchor="end" textLength="15.5" lengthAdjust="spacingAndGlyphs">0.8</text><text x="55.3" y="139.3" text-anchor="end" textLength="15.5" lengthAdjust="spacingAndGlyphs">0.9</text><text x="53.8" y="118.3" text-anchor="end">1</text><text x="57.8" y="336.5" text-anchor="middle">0</text><text x="119.5" y="336.5" text-anchor="middle" textLength="18.5" lengthAdjust="spacingAndGlyphs">120</text><text x="181.2" y="336.5" text-anchor="middle" textLength="18.5" lengthAdjust="spacingAndGlyphs">240</text><text x="242.9" y="336.5" text-anchor="middle" textLength="18.5" lengthAdjust="spacingAndGlyphs">360</text><text x="304.6" y="336.5" text-anchor="middle" textLength="18.5" lengthAdjust="spacingAndGlyphs">480</text><text x="366.3" y="336.5" text-anchor="middle" textLength="18.5" lengthAdjust="spacingAndGlyphs">600</text></g>
<text class="serif" font-size="13" fill="#f6e2ee" x="187" y="348.5" textLength="51" lengthAdjust="spacingAndGlyphs">Time, (fs)</text>
<text class="serif" font-size="13" fill="#f6e2ee" transform="translate(32.4 264) rotate(-90)" textLength="95" lengthAdjust="spacingAndGlyphs">Amplitude, (d.u.)</text>

<!-- title -->
<g class="sans" font-size="19" fill="#fbf4f9" stroke="#fbf4f9" stroke-width="0.75" stroke-linejoin="round">
<text x="29.4" y="405" textLength="268.8" lengthAdjust="spacingAndGlyphs">Numerical Method for Coupled</text>
<text x="29.4" y="427.8" textLength="310.3" lengthAdjust="spacingAndGlyphs">Nonlinear Schrödinger Equations in</text>
<text x="29.4" y="450.6" textLength="139.6" lengthAdjust="spacingAndGlyphs">Few-Mode Fiber</text></g>
<rect x="26" y="464" width="368" height="1.6" fill="#ffffff"/>
<text class="sans" font-size="10.5" fill="#ffffff" x="209.5" y="481.8" textLength="156.5" lengthAdjust="spacingAndGlyphs"><tspan font-weight="bold">Volume 9 · Issue 1</tspan> | January 2021</text>

<!-- MDPI -->
<g fill="none" stroke="#ffffff" stroke-width="1.3">
<path d="M53.7 514.8 L41.3 508.2 L27.1 515.7 L27.1 533.4"/>
<path d="M30 518.3 L41.3 511.7"/>
<path d="M53.7 536.1 L68 543.2 L81.3 535.2 L81.3 518.3"/>
<path d="M68 540 L78.6 534.3"/>
</g>
<text class="sans" x="31.2" y="531.6" font-size="16" font-weight="bold" fill="#ffffff" stroke="#ffffff" stroke-width="0.4" textLength="46.5" lengthAdjust="spacingAndGlyphs">MDPI</text>
<g class="sans" font-size="10" fill="#ffffff" stroke="#ffffff" stroke-width="0.25">
<text x="99" y="524" textLength="100" lengthAdjust="spacingAndGlyphs">mdpi.com/journal/fibers</text>
<text x="99" y="534.6" textLength="63" lengthAdjust="spacingAndGlyphs">ISSN 2079-6439</text></g>
</svg>
</body></html>
